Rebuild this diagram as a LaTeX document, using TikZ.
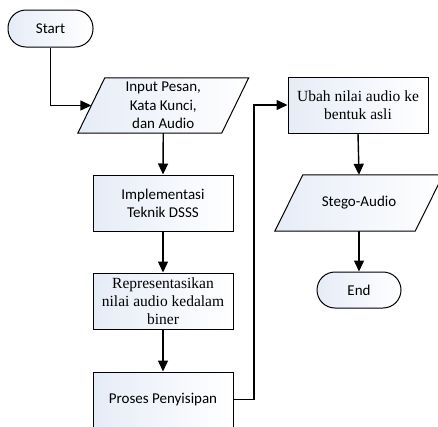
\documentclass[tikz,border=0pt]{standalone}
\usepackage{fontspec}
\setmainfont{Carlito}
\newfontfamily\timesf{Liberation Serif}
\usetikzlibrary{arrows.meta,backgrounds}
\definecolor{boxfill}{RGB}{230,236,247}
\tikzset{
  base/.style={draw=black, line width=1pt, align=center, inner sep=0pt,
    font=\fontsize{15}{18.3}\selectfont, left color=boxfill, right color=white},
  procbox/.style={base, rectangle, minimum width=140pt, minimum height=56pt},
  termbox/.style={base, rectangle, rounded corners=18pt},
  parabody/.style={rectangle, inner sep=0pt, align=center,
    font=\fontsize{15}{18.3}\selectfont},
  serif/.style={font=\timesf\fontsize{15.5}{18.3}\selectfont},
  arr/.style={draw=black, line width=1.4pt, -{Triangle[length=11pt,width=10pt]}},
}
\newcommand{\parashape}[2]{%
  \begin{scope}[on background layer]
    \path[draw=black, line width=1pt, left color=boxfill, right color=white]
      ([xshift=#2]#1.north west) -- ([xshift=#2]#1.north east) --
      ([xshift=-#2]#1.south east) -- ([xshift=-#2]#1.south west) -- cycle;
  \end{scope}}
\begin{document}
\begin{tikzpicture}[x=1pt,y=-1pt]
\useasboundingbox (0,0) rectangle (438,426);
% nodes
\node[termbox, minimum width=85pt, minimum height=37pt] (start) at (50.5,28.5) {Start};
\node[parabody, minimum width=143.5pt, minimum height=55pt] (in) at (163.25,105.5) {Input Pesan,\\Kata Kunci,\\dan Audio};
\parashape{in}{13.5pt}
\node[procbox] (impl) at (163,203) {Implementasi\\Teknik DSSS};
\node[procbox, serif] (rep) at (163,301) {Representasikan\\nilai audio kedalam\\biner};
\node[procbox, minimum height=55pt] (proses) at (163,399.5) {Proses Penyisipan};
\node[procbox, serif] (ubah) at (358,105) {Ubah nilai audio ke\\bentuk asli};
\node[parabody, minimum width=140pt, minimum height=56pt] (stego) at (359,203) {Stego-Audio};
\parashape{stego}{14pt}
\node[termbox, minimum width=84pt, minimum height=36pt] (end) at (359,290) {End};
\coordinate (turn) at (254,105);
% connectors
\draw[arr] (start.south) |- (in.west);
\draw[arr] (in.south) -- (impl.north);
\draw[arr] (impl.south) -- (rep.north);
\draw[arr] (rep.south) -- (proses.north);
\draw[arr] (proses.east) -| (turn) -- (ubah.west);
\draw[arr] (ubah.south) -- (stego.north);
\draw[arr] (stego.south) -- (end.north);
\end{tikzpicture}
\end{document}
